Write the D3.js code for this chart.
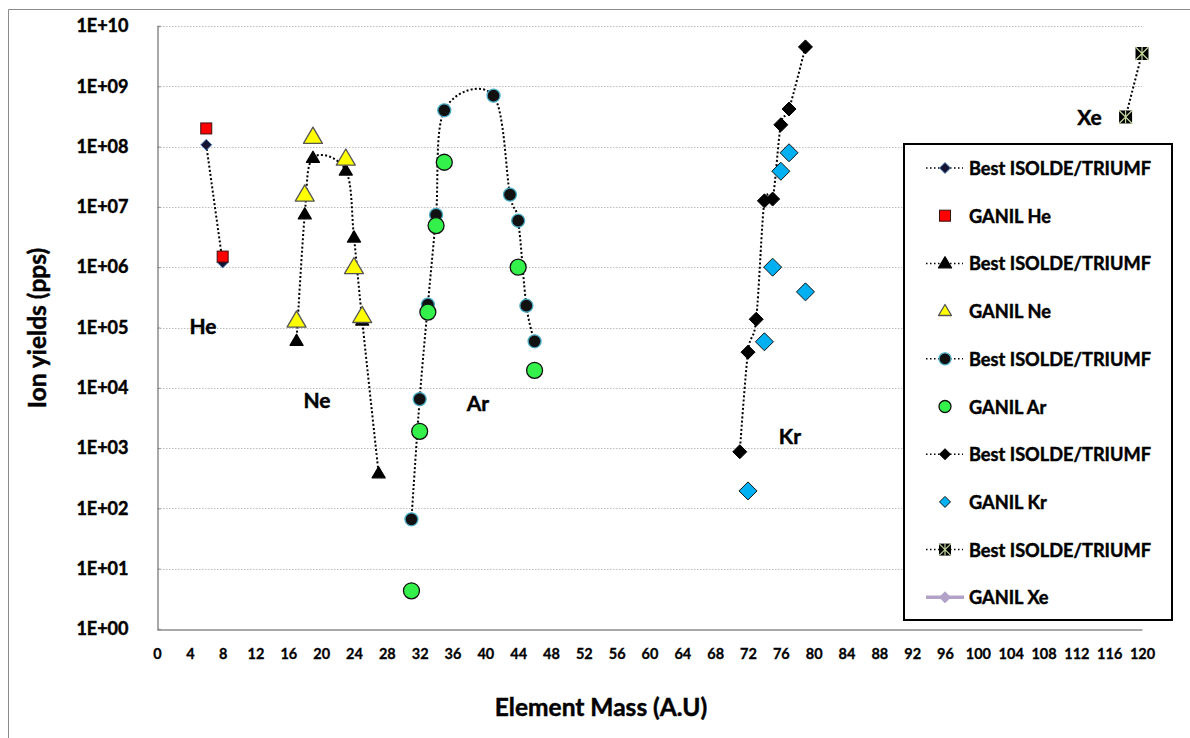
<!DOCTYPE html>
<html>
<head>
<meta charset="utf-8">
<script src="https://cdn.jsdelivr.net/npm/d3@7"></script>
<style>
  body { margin: 0; background: #fff; }
  svg { font-family: Lato, "Open Sans", sans-serif; font-weight: bold; }
  svg text { stroke: #000; stroke-width: 0.45px; fill: #000; }
</style>
</head>
<body>
<div class="wrap"></div>
<script>
// --- data ---
const heMass = [6, 8];
const heBest = [1.07e8, 1.2e6];
const heGanil = [2e8, 1.5e6];

const neBestMass = [17, 18, 19, 23, 24, 25, 27];
const neBest = [6e4, 7.5e6, 6.5e7, 4e7, 3.1e6, 1.3e5, 380];
const neGanilMass = [17, 18, 19, 23, 24, 25];
const neGanil = [1.3e5, 1.6e7, 1.45e8, 6.3e7, 1e6, 1.55e5];

const arBestMass = [31, 32, 33, 34, 35, 41, 43, 44, 45, 46];
const arBest = [66, 6.5e3, 2.4e5, 7.4e6, 4e8, 7e8, 1.6e7, 5.9e6, 2.3e5, 5.9e4];
const arGanilMass = [31, 32, 33, 34, 35, 44, 46];
const arGanil = [4.3, 1.9e3, 1.8e5, 4.9e6, 5.5e7, 1e6, 1.95e4];

const krBestMass = [71, 72, 73, 74, 75, 76, 77, 79];
const krBest = [870, 3.9e4, 1.37e5, 1.26e7, 1.35e7, 2.3e8, 4.2e8, 4.5e9];
const krGanilMass = [72, 74, 75, 76, 77, 79];
const krGanil = [195, 5.8e4, 1e6, 3.9e7, 7.9e7, 3.9e5];

const xeMass = [118, 120];
const xeBest = [3.1e8, 3.5e9];

const xTicks = d3.range(0, 121, 4);
const yTicks = d3.range(0, 11).map(e => Math.pow(10, e));

const elementLabels = [
  {name: "He", m: 5.6, v: 1.1e5},
  {name: "Ne", m: 19.5, v: 6.5e3},
  {name: "Ar", m: 39.1, v: 5.8e3},
  {name: "Kr", m: 77.1, v: 1.6e3},
  {name: "Xe", m: 113.6, v: 3.2e8}
];

// series: name, marker, whether line drawn
const series = [
  {name: "Best ISOLDE/TRIUMF", m: heMass, v: heBest, line: true, mk: "diamond", size: 11, fill: "#141432", stroke: "#4f81bd"},
  {name: "GANIL  He", m: heMass, v: heGanil, line: false, mk: "square", size: 11, fill: "#ff0000", stroke: "#3a1010"},
  {name: "Best ISOLDE/TRIUMF", m: neBestMass, v: neBest, line: true, mk: "triangle", size: 13, fill: "#000", stroke: "#000"},
  {name: "GANIL Ne", m: neGanilMass, v: neGanil, line: false, mk: "triangle", size: 19, fill: "#ffff00", stroke: "#555"},
  {name: "Best ISOLDE/TRIUMF", m: arBestMass, v: arBest, line: true, mk: "circle", size: 13, fill: "#111", stroke: "#4bacc6"},
  {name: "GANIL Ar", m: arGanilMass, v: arGanil, line: false, mk: "circle", size: 16, fill: "#33f04a", stroke: "#111"},
  {name: "Best ISOLDE/TRIUMF", m: krBestMass, v: krBest, line: true, mk: "diamond", size: 14, fill: "#000", stroke: "#000"},
  {name: "GANIL Kr", m: krGanilMass, v: krGanil, line: false, mk: "diamond", size: 18, fill: "#00b0f0", stroke: "#111"},
  {name: "Best ISOLDE/TRIUMF", m: xeMass, v: xeBest, line: true, mk: "xsquare", size: 13, fill: "#000", stroke: "#c3d69b"},
  {name: "GANIL Xe", m: [], v: [], line: false, mk: "diamond", size: 10, fill: "#b3a2c7", stroke: "#b3a2c7", legendLine: "#b3a2c7"}
];

const W = 1190, H = 738;
const plotLeft = 157, plotRight = 1142, plotTop = 26, plotBottom = 629;

const svg = d3.select(".wrap").append("svg")
  .attr("width", W).attr("height", H)
  .attr("viewBox", [0, 0, W, H]);

// outer chart frame (only top and left visible)
svg.append("line").attr("x1", 8.5).attr("y1", 9.5).attr("x2", W).attr("y2", 9.5).attr("stroke", "#8c8c8c");
svg.append("line").attr("x1", 8.5).attr("y1", 9.5).attr("x2", 8.5).attr("y2", H).attr("stroke", "#8c8c8c");

const x = d3.scaleLinear().domain([0, 120]).range([plotLeft, plotRight]);
const y = d3.scaleLog().domain([1, 1e10]).range([plotBottom, plotTop]);

// grid
svg.append("g").selectAll("line")
  .data(yTicks.slice(1))
  .join("line")
  .attr("x1", plotLeft).attr("x2", plotRight)
  .attr("y1", d => Math.round(y(d)) + 0.5).attr("y2", d => Math.round(y(d)) + 0.5)
  .attr("stroke", "#bdbdbd").attr("stroke-dasharray", "1.5,1.5");

// axes
const yAxis = d3.axisLeft(y).tickValues(yTicks).tickSize(-3).tickPadding(29)
  .tickFormat(d => "1E+" + String(Math.round(Math.log10(d))).padStart(2, "0"));
const gy = svg.append("g").attr("transform", `translate(${plotLeft + 0.5},0)`).call(yAxis);
gy.select(".domain").attr("stroke", "#8c8c8c").attr("stroke-width", 1.5);
gy.selectAll(".tick line").attr("stroke", "#8c8c8c");
gy.selectAll("text").attr("font-size", 18).attr("font-weight", "bold").attr("font-family", "Lato");

const xAxis = d3.axisBottom(x).tickValues(xTicks).tickSize(0).tickPadding(19);
const gx = svg.append("g").attr("transform", `translate(0,${plotBottom + 0.5})`).call(xAxis);
gx.select(".domain").attr("stroke", "#8c8c8c").attr("stroke-width", 1.5);
gx.selectAll("text").attr("font-size", 14.5).attr("font-weight", "bold").attr("font-family", "Lato")
  .style("stroke-width", "0.3px");

// axis titles
svg.append("text").attr("x", 601).attr("y", 716).attr("text-anchor", "middle")
  .attr("font-size", 24.5).text("Element Mass (A.U)");
svg.append("text").attr("transform", "translate(46,328) rotate(-90)").attr("text-anchor", "middle")
  .attr("font-size", 24.5).text("Ion yields (pps)");

// marker drawing
function marker(g, mk, s, fill, stroke) {
  const h = s / 2;
  if (mk === "circle") {
    g.append("circle").attr("r", h).attr("fill", fill).attr("stroke", stroke).attr("stroke-width", 1.3);
  } else if (mk === "square") {
    g.append("rect").attr("x", -h).attr("y", -h).attr("width", s).attr("height", s)
      .attr("fill", fill).attr("stroke", stroke).attr("stroke-width", 1);
  } else if (mk === "diamond") {
    g.append("path").attr("d", `M0,${-h}L${h},0L0,${h}L${-h},0Z`)
      .attr("fill", fill).attr("stroke", stroke).attr("stroke-width", 1);
  } else if (mk === "triangle") {
    const th = s * 0.85;
    g.append("path").attr("d", `M0,${-th * 0.6}L${h},${th * 0.4}L${-h},${th * 0.4}Z`)
      .attr("fill", fill).attr("stroke", stroke).attr("stroke-width", 1.3).attr("stroke-linejoin", "round");
  } else if (mk === "xsquare") {
    g.append("rect").attr("x", -h).attr("y", -h).attr("width", s).attr("height", s).attr("fill", fill);
    g.append("path").attr("d", `M${-h},${-h}L${h},${h}M${h},${-h}L${-h},${h}M0,${-h}L0,${h}`)
      .attr("stroke", stroke).attr("stroke-width", 1.2);
  }
}

// element labels
svg.append("g").selectAll("text")
  .data(elementLabels)
  .join("text")
  .attr("x", d => x(d.m)).attr("y", d => y(d.v))
  .attr("text-anchor", "middle").attr("dominant-baseline", "central")
  .attr("font-size", 21).text(d => d.name);

// lines (smoothed, dotted)
const lineGen = d3.line().x(d => x(d[0])).y(d => y(d[1])).curve(d3.curveCatmullRom.alpha(0));
series.filter(s => s.line).forEach(s => {
  svg.append("path")
    .datum(s.m.map((m, i) => [m, s.v[i]]))
    .attr("d", lineGen)
    .attr("fill", "none").attr("stroke", "#000").attr("stroke-width", 2)
    .attr("stroke-dasharray", "2,2.2");
});

// markers
series.forEach(s => {
  s.m.forEach((m, i) => {
    const g = svg.append("g").attr("transform", `translate(${x(m)},${y(s.v[i])})`);
    marker(g, s.mk, s.size, s.fill, s.stroke);
  });
});

// legend
const lg = svg.append("g");
lg.append("rect").attr("x", 904).attr("y", 144).attr("width", 268).attr("height", 476)
  .attr("fill", "#fff").attr("stroke", "#000").attr("stroke-width", 2);
series.forEach((s, i) => {
  const cy = 168 + i * 47.7;
  if (s.line) {
    lg.append("line").attr("x1", 926).attr("x2", 963).attr("y1", cy).attr("y2", cy)
      .attr("stroke", "#000").attr("stroke-width", 1.5).attr("stroke-dasharray", "1.5,2.5");
  }
  if (s.legendLine) {
    lg.append("line").attr("x1", 926).attr("x2", 964).attr("y1", cy).attr("y2", cy)
      .attr("stroke", s.legendLine).attr("stroke-width", 3.5);
  }
  const g = lg.append("g").attr("transform", `translate(945,${cy})`);
  const ls = s.mk === "circle" ? 12 : s.mk === "triangle" ? 13 : s.mk === "xsquare" ? 12 : 11;
  marker(g, s.mk, ls, s.fill, s.stroke);
  lg.append("text").attr("x", 969).attr("y", cy).attr("dominant-baseline", "central")
    .attr("font-size", 18.2).text(s.name);
});
</script>
</body>
</html>
